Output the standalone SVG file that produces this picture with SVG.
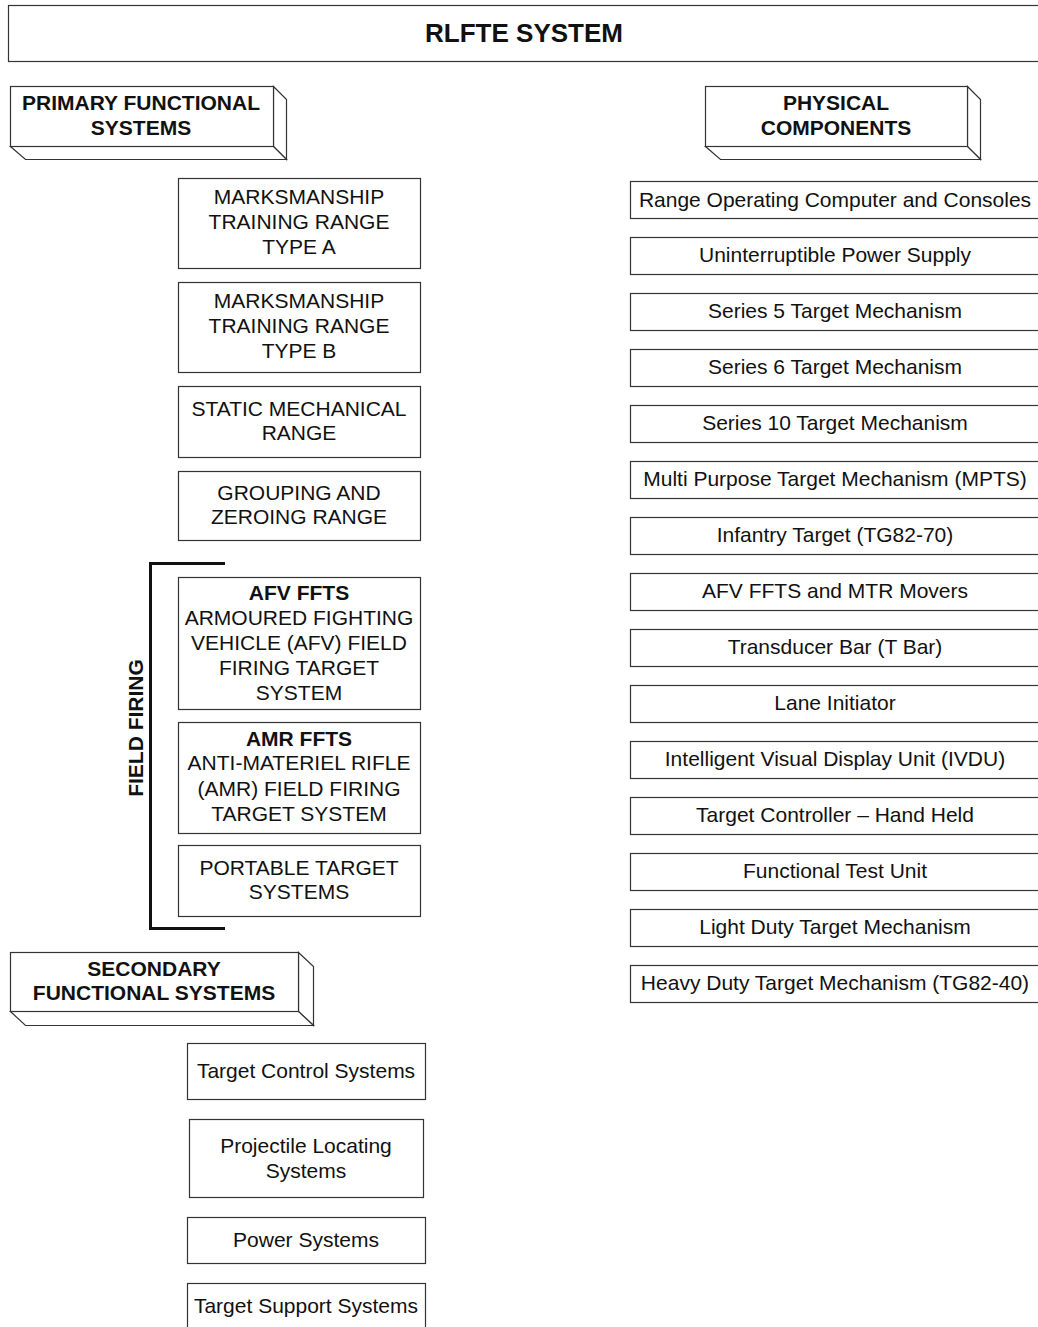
<svg xmlns="http://www.w3.org/2000/svg" width="1038" height="1327" viewBox="0 0 1038 1327">
<style>
.box{fill:#fff;stroke:#333;stroke-width:1.2}
.t{font-family:"Liberation Sans",Arial,sans-serif;font-size:21px;fill:#111;text-anchor:middle}
.b{font-weight:bold}
.hd{font-family:"Liberation Sans",Arial,sans-serif;font-size:21px;font-weight:bold;fill:#111;text-anchor:middle}
.br{fill:none;stroke:#111;stroke-width:3}
</style>
<rect width="1038" height="1327" fill="#fff"/>
<g id="title">
<rect class="box" x="8.5" y="5.5" width="1040" height="56"/>
<text class="t b" x="524" y="42" style="font-size:26px">RLFTE SYSTEM</text>
</g>
<g id="primary">
<path class="box" d="M273.5,86.5 L286.5,99.5 L286.5,159.5 L273.5,146.5 Z"/>
<path class="box" d="M10.5,146.5 L273.5,146.5 L286.5,159.5 L25.5,159.5 Z"/>
<rect class="box" x="10.5" y="86.5" width="263" height="60"/>
<text class="hd" x="141" y="110">PRIMARY FUNCTIONAL</text>
<text class="hd" x="141" y="135">SYSTEMS</text>
</g>
<g id="physical">
<path class="box" d="M967.5,86.5 L980.5,99.5 L980.5,159.5 L967.5,146.5 Z"/>
<path class="box" d="M705.5,146.5 L967.5,146.5 L980.5,159.5 L720.5,159.5 Z"/>
<rect class="box" x="705.5" y="86.5" width="262" height="60"/>
<text class="hd" x="836" y="110">PHYSICAL</text>
<text class="hd" x="836" y="135">COMPONENTS</text>
</g>
<g id="secondary">
<path class="box" d="M298.5,952.5 L313.5,966.5 L313.5,1025.5 L298.5,1011.5 Z"/>
<path class="box" d="M10.5,1011.5 L298.5,1011.5 L313.5,1025.5 L25.5,1025.5 Z"/>
<rect class="box" x="10.5" y="952.5" width="288" height="59"/>
<text class="hd" x="154" y="976">SECONDARY</text>
<text class="hd" x="154" y="1000">FUNCTIONAL SYSTEMS</text>
</g>
<g id="mtr-a">
<rect class="box" x="178.5" y="178.5" width="242" height="90"/>
<text class="t" x="299" y="204">MARKSMANSHIP</text>
<text class="t" x="299" y="229">TRAINING RANGE</text>
<text class="t" x="299" y="254">TYPE A</text>
</g>
<g id="mtr-b">
<rect class="box" x="178.5" y="282.5" width="242" height="90"/>
<text class="t" x="299" y="308">MARKSMANSHIP</text>
<text class="t" x="299" y="333">TRAINING RANGE</text>
<text class="t" x="299" y="358">TYPE B</text>
</g>
<g id="smr">
<rect class="box" x="178.5" y="386.5" width="242" height="71"/>
<text class="t" x="299" y="416">STATIC MECHANICAL</text>
<text class="t" x="299" y="440">RANGE</text>
</g>
<g id="gzr">
<rect class="box" x="178.5" y="471.5" width="242" height="69"/>
<text class="t" x="299" y="500">GROUPING AND</text>
<text class="t" x="299" y="524">ZEROING RANGE</text>
</g>
<g id="afv">
<rect class="box" x="178.5" y="577.5" width="242" height="132"/>
<text class="t b" x="299" y="600">AFV FFTS</text>
<text class="t" x="299" y="625">ARMOURED FIGHTING</text>
<text class="t" x="299" y="650">VEHICLE (AFV) FIELD</text>
<text class="t" x="299" y="675">FIRING TARGET</text>
<text class="t" x="299" y="700">SYSTEM</text>
</g>
<g id="amr">
<rect class="box" x="178.5" y="722.5" width="242" height="111"/>
<text class="t b" x="299" y="746">AMR FFTS</text>
<text class="t" x="299" y="770">ANTI-MATERIEL RIFLE</text>
<text class="t" x="299" y="796">(AMR) FIELD FIRING</text>
<text class="t" x="299" y="821">TARGET SYSTEM</text>
</g>
<g id="pts">
<rect class="box" x="178.5" y="845.5" width="242" height="71"/>
<text class="t" x="299" y="875">PORTABLE TARGET</text>
<text class="t" x="299" y="899">SYSTEMS</text>
</g>
<g id="field-firing">
<path class="br" d="M225,563.5 L150.5,563.5 L150.5,928.5 L225,928.5"/>
<text class="hd" transform="translate(143,728) rotate(-90)">FIELD FIRING</text>
</g>
<g id="tcs">
<rect class="box" x="187.5" y="1043.5" width="238" height="56"/>
<text class="t" x="306" y="1078">Target Control Systems</text>
</g>
<g id="pls">
<rect class="box" x="189.5" y="1119.5" width="234" height="78"/>
<text class="t" x="306" y="1153">Projectile Locating</text>
<text class="t" x="306" y="1178">Systems</text>
</g>
<g id="ps">
<rect class="box" x="187.5" y="1217.5" width="238" height="46"/>
<text class="t" x="306" y="1247">Power Systems</text>
</g>
<g id="tss">
<rect class="box" x="187.5" y="1283.5" width="238" height="60"/>
<text class="t" x="306" y="1313">Target Support Systems</text>
</g>
<g id="pc1"><rect class="box" x="630.5" y="181.5" width="420" height="37"/><text class="t" x="835" y="207">Range Operating Computer and Consoles</text></g>
<g id="pc2"><rect class="box" x="630.5" y="237.5" width="420" height="37"/><text class="t" x="835" y="262">Uninterruptible Power Supply</text></g>
<g id="pc3"><rect class="box" x="630.5" y="293.5" width="420" height="37"/><text class="t" x="835" y="318">Series 5 Target Mechanism</text></g>
<g id="pc4"><rect class="box" x="630.5" y="349.5" width="420" height="37"/><text class="t" x="835" y="374">Series 6 Target Mechanism</text></g>
<g id="pc5"><rect class="box" x="630.5" y="405.5" width="420" height="37"/><text class="t" x="835" y="430">Series 10 Target Mechanism</text></g>
<g id="pc6"><rect class="box" x="630.5" y="461.5" width="420" height="37"/><text class="t" x="835" y="486">Multi Purpose Target Mechanism (MPTS)</text></g>
<g id="pc7"><rect class="box" x="630.5" y="517.5" width="420" height="37"/><text class="t" x="835" y="542">Infantry Target (TG82-70)</text></g>
<g id="pc8"><rect class="box" x="630.5" y="573.5" width="420" height="37"/><text class="t" x="835" y="598">AFV FFTS and MTR Movers</text></g>
<g id="pc9"><rect class="box" x="630.5" y="629.5" width="420" height="37"/><text class="t" x="835" y="654">Transducer Bar (T Bar)</text></g>
<g id="pc10"><rect class="box" x="630.5" y="685.5" width="420" height="37"/><text class="t" x="835" y="710">Lane Initiator</text></g>
<g id="pc11"><rect class="box" x="630.5" y="741.5" width="420" height="37"/><text class="t" x="835" y="766">Intelligent Visual Display Unit (IVDU)</text></g>
<g id="pc12"><rect class="box" x="630.5" y="797.5" width="420" height="37"/><text class="t" x="835" y="822">Target Controller – Hand Held</text></g>
<g id="pc13"><rect class="box" x="630.5" y="853.5" width="420" height="37"/><text class="t" x="835" y="878">Functional Test Unit</text></g>
<g id="pc14"><rect class="box" x="630.5" y="909.5" width="420" height="37"/><text class="t" x="835" y="934">Light Duty Target Mechanism</text></g>
<g id="pc15"><rect class="box" x="630.5" y="965.5" width="420" height="37"/><text class="t" x="835" y="990">Heavy Duty Target Mechanism (TG82-40)</text></g>
<g id="connectors"></g>
</svg>
